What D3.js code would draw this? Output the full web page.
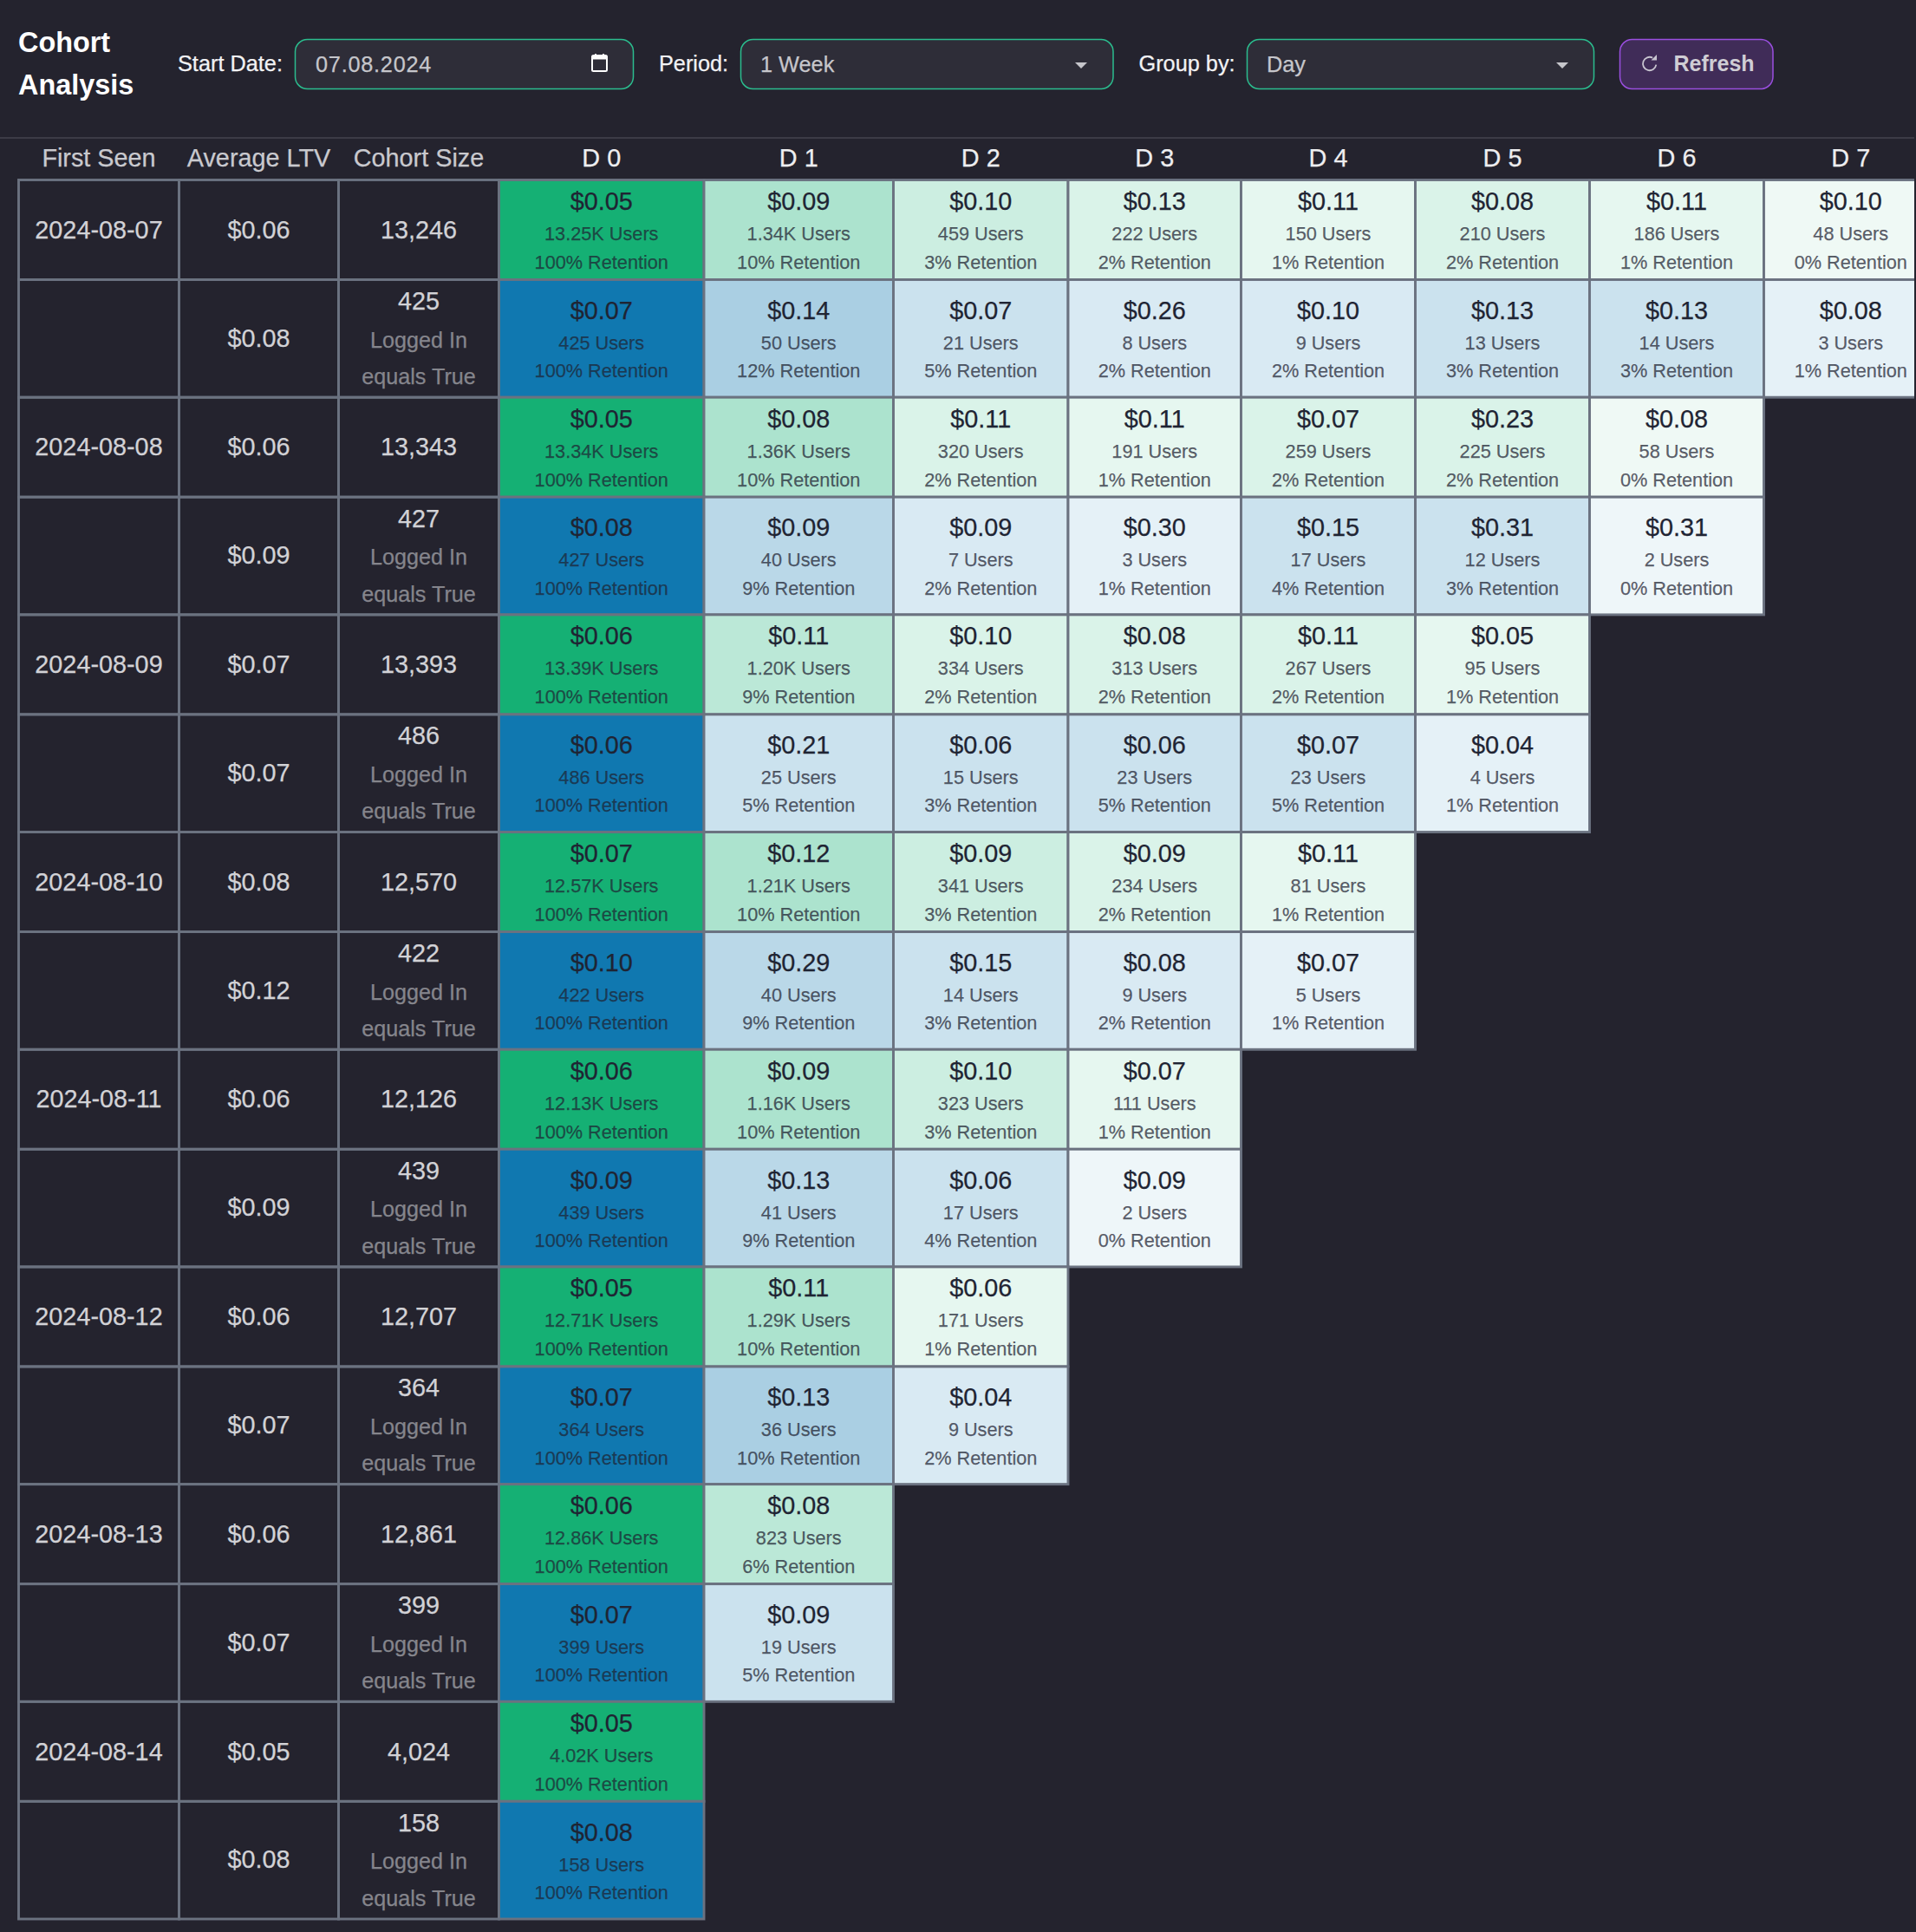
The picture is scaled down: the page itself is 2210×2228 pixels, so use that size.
<!DOCTYPE html>
<html lang="en">
<head>
  <meta charset="UTF-8">
  <title>Cohort Analysis</title>
  <script src="https://d3js.org/d3.v7.min.js"></script>
  <style>
    body { margin: 0; background: #24232e; }
    svg { display: block; font-family: "Liberation Sans", Arial, sans-serif; }
  </style>
</head>
<body>
  <svg id="chart" width="2208" height="2228"></svg>

  <script>
    const dates = ["2024-08-07", "2024-08-08", "2024-08-09", "2024-08-10", "2024-08-11", "2024-08-12", "2024-08-13", "2024-08-14"];
    const avgLtv = [0.06, 0.06, 0.07, 0.08, 0.06, 0.06, 0.06, 0.05];
    const cohortSize = [13246, 13343, 13393, 12570, 12126, 12707, 12861, 4024];
    const loggedAvgLtv = [0.08, 0.09, 0.07, 0.12, 0.09, 0.07, 0.07, 0.08];
    const loggedSize = [425, 427, 486, 422, 439, 364, 399, 158];

    const days = ["D 0", "D 1", "D 2", "D 3", "D 4", "D 5", "D 6", "D 7"];

    const allLtv = [
      [0.05, 0.09, 0.10, 0.13, 0.11, 0.08, 0.11, 0.10],
      [0.05, 0.08, 0.11, 0.11, 0.07, 0.23, 0.08],
      [0.06, 0.11, 0.10, 0.08, 0.11, 0.05],
      [0.07, 0.12, 0.09, 0.09, 0.11],
      [0.06, 0.09, 0.10, 0.07],
      [0.05, 0.11, 0.06],
      [0.06, 0.08],
      [0.05]
    ];
    const allUsers = [
      [13250, 1340, 459, 222, 150, 210, 186, 48],
      [13340, 1360, 320, 191, 259, 225, 58],
      [13390, 1200, 334, 313, 267, 95],
      [12570, 1210, 341, 234, 81],
      [12130, 1160, 323, 111],
      [12710, 1290, 171],
      [12860, 823],
      [4020]
    ];
    const allRetention = [
      [100, 10, 3, 2, 1, 2, 1, 0],
      [100, 10, 2, 1, 2, 2, 0],
      [100, 9, 2, 2, 2, 1],
      [100, 10, 3, 2, 1],
      [100, 10, 3, 1],
      [100, 10, 1],
      [100, 6],
      [100]
    ];

    const loggedLtv = [
      [0.07, 0.14, 0.07, 0.26, 0.10, 0.13, 0.13, 0.08],
      [0.08, 0.09, 0.09, 0.30, 0.15, 0.31, 0.31],
      [0.06, 0.21, 0.06, 0.06, 0.07, 0.04],
      [0.10, 0.29, 0.15, 0.08, 0.07],
      [0.09, 0.13, 0.06, 0.09],
      [0.07, 0.13, 0.04],
      [0.07, 0.09],
      [0.08]
    ];
    const loggedUsers = [
      [425, 50, 21, 8, 9, 13, 14, 3],
      [427, 40, 7, 3, 17, 12, 2],
      [486, 25, 15, 23, 23, 4],
      [422, 40, 14, 9, 5],
      [439, 41, 17, 2],
      [364, 36, 9],
      [399, 19],
      [158]
    ];
    const loggedRetention = [
      [100, 12, 5, 2, 2, 3, 3, 1],
      [100, 9, 2, 1, 4, 3, 0],
      [100, 5, 3, 5, 5, 1],
      [100, 9, 3, 2, 1],
      [100, 9, 4, 0],
      [100, 10, 2],
      [100, 5],
      [100]
    ];

    const svg = d3.select("#chart");

    const GRID = "#6b7280";
    const GREEN = "#15b074";
    const BLUE = "#1078b0";

    // columns are not the same width, so left edges are looked up by name
    const columns = ["seen", "ltv", "size"].concat(days);
    const colEdges = [21.5, 206.5, 390.5, 575.5, 812, 1030.5, 1232, 1431.5, 1632.5, 1833.5, 2034.5, 2235];
    const x = d3.scaleOrdinal().domain(columns).range(colEdges);
    const colWidth = d => colEdges[columns.indexOf(d) + 1] - x(d);
    const colMid = d => x(d) + colWidth(d) / 2;

    const y = d3.scaleLinear().domain([0, dates.length]).range([207.5, 2213]);
    const ROW_ALL = 115;
    const ROW_LOGGED = 135.7;

    // the heat colour comes in steps of the rounded retention
    const shade = d3.scaleThreshold()
      .domain([1, 2, 3, 6, 10, 100])
      .range([0.07, 0.107, 0.158, 0.218, 0.29, 0.355, 1]);
    const cellColor = (base, ret) => d3.interpolateRgb("#ffffff", base)(shade(ret));

    const fmtLtv = d3.format("$.2f");
    const fmtSize = d3.format(",");
    const fmtUsers = v => v >= 1000 ? d3.format(".2f")(v / 1000) + "K" : String(v);

    function label(g, txt, px, py, size, fill, opts) {
      opts = opts || {};
      const t = g.append("text")
        .attr("x", px)
        .attr("y", py)
        .attr("font-size", size)
        .attr("fill", fill)
        .attr("text-anchor", opts.anchor || "middle")
        .attr("font-weight", opts.weight || "normal")
        .attr("fill-opacity", opts.opacity == null ? 1 : opts.opacity)
        .text(txt);
      // reference text is a little heavier than ours
      if (!opts.weight) t.attr("stroke", fill).attr("stroke-width", 0.25).attr("stroke-opacity", opts.opacity == null ? 1 : opts.opacity);
      return t;
    }

    // ---- toolbar
    const bar = svg.append("g");
    label(bar, "Cohort", 21, 60, 32.4, "#ffffff", { anchor: "start", weight: "bold" });
    label(bar, "Analysis", 21, 109, 32.4, "#ffffff", { anchor: "start", weight: "bold" });

    function field(left, right, txt, textX) {
      bar.append("rect")
        .attr("x", left).attr("y", 45.5)
        .attr("width", right - left).attr("height", 57)
        .attr("rx", 14)
        .attr("fill", "#2e2d38")
        .attr("stroke", "#2bbd8e")
        .attr("stroke-width", 1.5);
      return label(bar, txt, textX, 82.5, 25.3, "#c6c6cb", { anchor: "start" });
    }
    function caret(cx) {
      bar.append("path")
        .attr("d", d3.line()([[cx - 7, 72], [cx + 7, 72], [cx, 79]]) + "Z")
        .attr("fill", "#c6c6cb");
    }

    label(bar, "Start Date:", 205, 82, 25.3, "#f2f2f4", { anchor: "start" });
    field(340.5, 730.5, "07.08.2024", 364).attr("letter-spacing", 0.75);
    bar.append("rect").attr("x", 683).attr("y", 64).attr("width", 17).attr("height", 18)
      .attr("rx", 1.5).attr("fill", "none").attr("stroke", "#ffffff").attr("stroke-width", 2);
    bar.append("rect").attr("x", 683).attr("y", 64).attr("width", 17).attr("height", 4.5).attr("fill", "#ffffff");
    bar.append("rect").attr("x", 686).attr("y", 62).attr("width", 2).attr("height", 3).attr("fill", "#ffffff");
    bar.append("rect").attr("x", 695).attr("y", 62).attr("width", 2).attr("height", 3).attr("fill", "#ffffff");

    label(bar, "Period:", 760, 82, 25.3, "#f2f2f4", { anchor: "start" });
    field(854.5, 1284, "1 Week", 877);
    caret(1247);

    label(bar, "Group by:", 1313.5, 82, 25.3, "#f2f2f4", { anchor: "start" });
    field(1438.5, 1838.5, "Day", 1461);
    caret(1802);

    bar.append("rect")
      .attr("x", 1868.5).attr("y", 45.5)
      .attr("width", 176.5).attr("height", 57)
      .attr("rx", 14)
      .attr("fill", "#402c58")
      .attr("stroke", "#9a4fe0")
      .attr("stroke-width", 1.5);
    bar.append("path")
      .attr("d", d3.arc()({ innerRadius: 6.8, outerRadius: 8.6, startAngle: Math.PI * 0.55, endAngle: Math.PI * 2.15 }))
      .attr("transform", "translate(1902.7,73.5)")
      .attr("fill", "#c8c5d0");
    bar.append("path")
      .attr("d", d3.line()([[1904.5, 69.5], [1911, 69.5], [1911, 63]]) + "Z")
      .attr("fill", "#c8c5d0");
    label(bar, "Refresh", 1930.5, 82, 25, "#cfcdd4", { anchor: "start", weight: "bold" });

    svg.append("line")
      .attr("x1", 0).attr("x2", 2208)
      .attr("y1", 159).attr("y2", 159)
      .attr("stroke", "#45444f")
      .attr("stroke-width", 1.5);

    // ---- header
    const head = svg.append("g");
    label(head, "First Seen", colMid("seen"), 192, 28.8, "#c9c9ce");
    label(head, "Average LTV", colMid("ltv"), 192, 28.8, "#c9c9ce");
    label(head, "Cohort Size", colMid("size"), 192, 28.8, "#c9c9ce");
    days.forEach(d => label(head, d, colMid(d), 192, 28.8, "#eeeef0"));

    // ---- table body
    function gridCell(g, col, top, h, fill) {
      g.append("rect")
        .attr("x", x(col))
        .attr("y", top)
        .attr("width", colWidth(col))
        .attr("height", h)
        .attr("fill", fill)
        .attr("stroke", GRID)
        .attr("stroke-width", 2.9);
    }

    function heatCells(g, top, h, ltv, users, retention, base, offs) {
      ltv.forEach((v, i) => {
        const col = days[i];
        gridCell(g, col, top, h, cellColor(base, retention[i]));
        label(g, fmtLtv(v), colMid(col), top + offs[0], 28.8, "#1f2433");
        label(g, fmtUsers(users[i]) + " Users", colMid(col), top + offs[1], 21.7, "#1f2433", { opacity: 0.72 });
        label(g, retention[i] + "% Retention", colMid(col), top + offs[2], 21.7, "#1f2433", { opacity: 0.72 });
      });
    }

    dates.forEach((date, i) => {
      const g = svg.append("g");
      const top = y(i);
      const top2 = top + ROW_ALL;

      gridCell(g, "seen", top, ROW_ALL, "none");
      gridCell(g, "ltv", top, ROW_ALL, "none");
      gridCell(g, "size", top, ROW_ALL, "none");
      label(g, date, colMid("seen"), top + 67.2, 28.8, "#d2d2d6");
      label(g, fmtLtv(avgLtv[i]), colMid("ltv"), top + 67.2, 28.8, "#d2d2d6");
      label(g, fmtSize(cohortSize[i]), colMid("size"), top + 67.2, 28.8, "#d2d2d6");

      gridCell(g, "seen", top2, ROW_LOGGED, "none");
      gridCell(g, "ltv", top2, ROW_LOGGED, "none");
      gridCell(g, "size", top2, ROW_LOGGED, "none");
      label(g, fmtLtv(loggedAvgLtv[i]), colMid("ltv"), top2 + 77, 28.8, "#d2d2d6");
      label(g, fmtSize(loggedSize[i]), colMid("size"), top2 + 34.5, 28.8, "#d2d2d6");
      label(g, "Logged In", colMid("size"), top2 + 78, 25.2, "#85858c");
      label(g, "equals True", colMid("size"), top2 + 120.5, 25.2, "#85858c");

      heatCells(g, top, ROW_ALL, allLtv[i], allUsers[i], allRetention[i], GREEN, [34.4, 69.4, 102.4]);
      heatCells(g, top2, ROW_LOGGED, loggedLtv[i], loggedUsers[i], loggedRetention[i], BLUE, [45.3, 80.3, 112.6]);
    });
  </script>
</body>
</html>
